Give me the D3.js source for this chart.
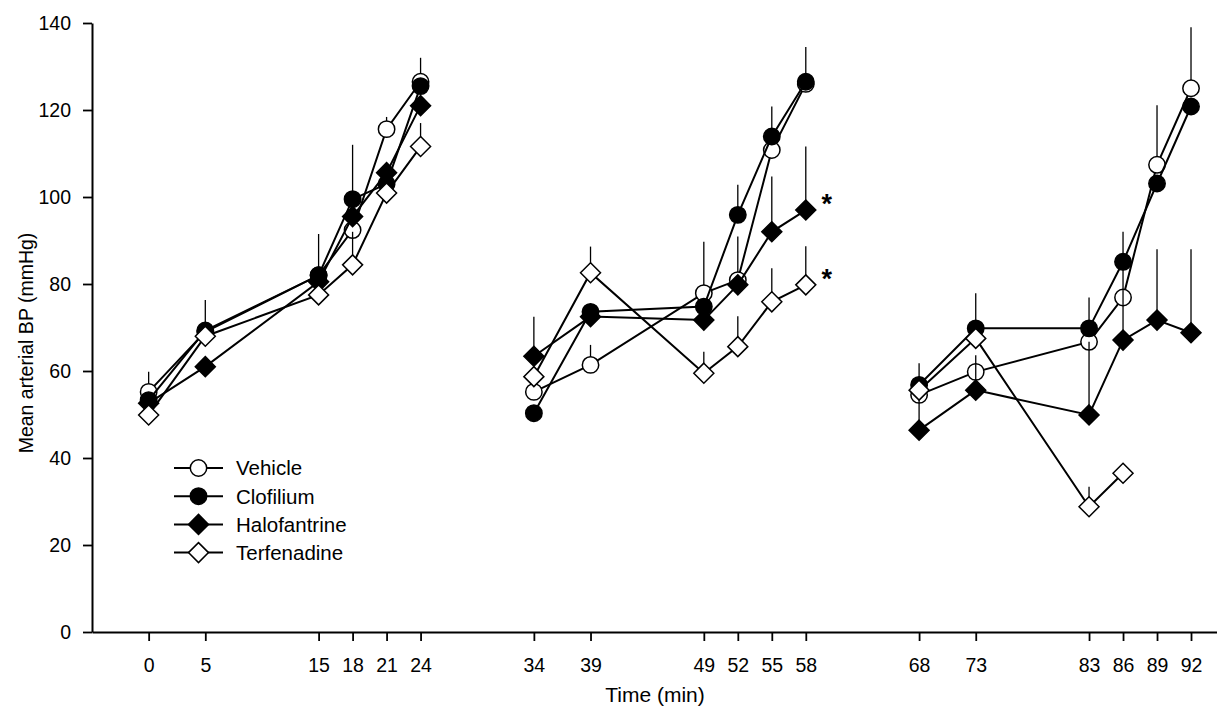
<!DOCTYPE html>
<html>
<head>
<meta charset="utf-8">
<script src="https://cdn.jsdelivr.net/npm/d3@7"></script>
<style>
  html, body { margin: 0; padding: 0; background: #fff; }
  svg { display: block; font-family: "Liberation Sans", Arial, sans-serif; }
</style>
</head>
<body>
<div id="bp-chart"></div>
<script>
(function() {

// Time points, one block per period (lines are not joined between blocks)
const timeGroups = [
    [0, 5, 15, 18, 21, 24],
    [34, 39, 49, 52, 55, 58],
    [68, 73, 83, 86, 89, 92]
];
const yTicks = [0, 20, 40, 60, 80, 100, 120, 140];

const seriesNames = ["Vehicle", "Clofilium", "Halofantrine", "Terfenadine"];

// Mean arterial BP (mmHg), 18 values each
const vehicle      = [55.2, 69, 82, 92.4, 115.6, 126.5,   55.2, 61.4, 77.9, 80.9, 110.8, 126,    54.5, 59.8, 66.7, 76.9, 107.4, 125];
const clofilium    = [53.3, 69.3, 82, 99.5, 103, 125.5,    50.3, 73.6, 74.8, 95.9, 113.9, 126.5,  56.8, 69.8, 69.8, 85.1, 103.1, 120.8];
const halofantrine = [52.6, 61, 80.5, 95.5, 105.6, 121,    63.4, 72.5, 71.7, 79.8, 92, 97,        46.4, 55.6, 49.9, 67.1, 71.7, 68.8];
const terfenadine  = [49.9, 68, 77.5, 84.4, 100.9, 111.6,  58.7, 82.6, 59.5, 65.6, 75.9, 79.8,    55.6, 67.5, 28.8, 36.5, null, null];

// Upper error bars (SEM), null = none visible
const vehicleSE      = [4.6, null, null, null, 2.8, 5.5,   null, 4.6, 11.8, 10, null, null,    null, null, null, null, 13.7, 14];
const clofiliumSE    = [null, 7, 9.5, 12.5, null, null,    null, null, null, 6.9, 6.9, 8,      5, 8.1, 7.1, 6.9, null, null];
const halofantrineSE = [null, null, null, null, null, null, 9.1, null, null, null, 12.7, 14.6, 8, 8, 16.8, 17.9, 16.3, 19.2];
const terfenadineSE  = [null, null, null, 7.6, null, 5.4,  null, 6, 4.9, 7, 7.7, 8.9,          null, null, 4.6, null, null, null];

// Significance marks
const starSeries = ["Halofantrine", "Terfenadine"];
const starTime = 58;

const times = timeGroups.flat();
const values = [vehicle, clofilium, halofantrine, terfenadine];
const errors = [vehicleSE, clofiliumSE, halofantrineSE, terfenadineSE];
const markerFill = ["#fff", "#000", "#000", "#fff"];
const markerShape = ["circle", "circle", "diamond", "diamond"];

const W = 1217, H = 706;

const svg = d3.select("#bp-chart")
    .append("svg")
    .attr("width", W)
    .attr("height", H);

// Scales
const x = d3.scaleLinear().domain([-5, 95]).range([92, 1225]);
const y = d3.scaleLinear().domain([0, 140]).range([632, 23]);

// Axes
const yAxis = svg.append("g")
    .attr("transform", `translate(${x(-5)},0)`)
    .call(d3.axisLeft(y).tickValues(yTicks).tickSize(9).tickSizeOuter(0).tickPadding(12));

const xAxis = svg.append("g")
    .attr("transform", `translate(0,${y(0)})`)
    .call(d3.axisBottom(x).tickValues(times).tickSize(9).tickSizeOuter(0).tickPadding(17));

[yAxis, xAxis].forEach(a => {
    a.select(".domain").attr("stroke", "#000").attr("stroke-width", 2);
    a.selectAll(".tick line").attr("stroke", "#000").attr("stroke-width", 1.8);
    a.selectAll(".tick text")
        .attr("fill", "#000")
        .style("font-size", "19.5px")
        .style("font-family", "Liberation Sans, Arial, sans-serif");
});

// Axis labels
svg.append("text")
    .attr("transform", `translate(33,343) rotate(-90)`)
    .attr("text-anchor", "middle")
    .style("font-size", "19.5px")
    .text("Mean arterial BP (mmHg)");

svg.append("text")
    .attr("x", 655)
    .attr("y", 702)
    .attr("text-anchor", "middle")
    .style("font-size", "21px")
    .text("Time (min)");

// Marker helper
function drawMarker(g, shape, fill, cx, cy) {
    if (shape === "circle") {
        g.append("circle")
            .attr("cx", cx).attr("cy", cy).attr("r", 8.2)
            .attr("fill", fill).attr("stroke", "#000").attr("stroke-width", 1.5);
    } else {
        const s = 10;
        g.append("path")
            .attr("d", `M${cx},${cy - s}L${cx + s},${cy}L${cx},${cy + s}L${cx - s},${cy}Z`)
            .attr("fill", fill).attr("stroke", "#000").attr("stroke-width", 1.5);
    }
}

const line = d3.line()
    .defined(d => d.v != null)
    .x(d => x(d.t))
    .y(d => y(d.v));

// Draw each series: lines per block, error bars, then markers
seriesNames.forEach((name, si) => {
    const g = svg.append("g").attr("class", "series");
    const pts = times.map((t, i) => ({ t: t, v: values[si][i], e: errors[si][i] }));

    let start = 0;
    timeGroups.forEach(block => {
        const seg = pts.slice(start, start + block.length);
        start += block.length;
        g.append("path")
            .datum(seg)
            .attr("fill", "none")
            .attr("stroke", "#000")
            .attr("stroke-width", 2)
            .attr("d", line);
    });

    pts.filter(d => d.v != null && d.e != null).forEach(d => {
        g.append("line")
            .attr("x1", x(d.t)).attr("x2", x(d.t))
            .attr("y1", y(d.v)).attr("y2", y(d.v + d.e))
            .attr("stroke", "#000").attr("stroke-width", 1.3);
    });

    pts.filter(d => d.v != null).forEach(d => {
        drawMarker(g, markerShape[si], markerFill[si], x(d.t), y(d.v));
    });
});

// Asterisks
starSeries.forEach(name => {
    const si = seriesNames.indexOf(name);
    const v = values[si][times.indexOf(starTime)];
    svg.append("text")
        .attr("x", x(starTime) + 21)
        .attr("y", y(v) + 3)
        .attr("text-anchor", "middle")
        .style("font-size", "27px")
        .style("font-weight", "bold")
        .text("*");
});

// Legend
const legend = svg.append("g").attr("transform", "translate(174,468)");
seriesNames.forEach((name, si) => {
    const ly = si * 28.2;
    legend.append("line")
        .attr("x1", 0).attr("x2", 49)
        .attr("y1", ly).attr("y2", ly)
        .attr("stroke", "#000").attr("stroke-width", 2);
    drawMarker(legend, markerShape[si], markerFill[si], 24.5, ly);
    legend.append("text")
        .attr("x", 62)
        .attr("y", ly)
        .attr("dy", "0.36em")
        .style("font-size", "20.5px")
        .text(name);
});

})();
</script>
</body>
</html>
